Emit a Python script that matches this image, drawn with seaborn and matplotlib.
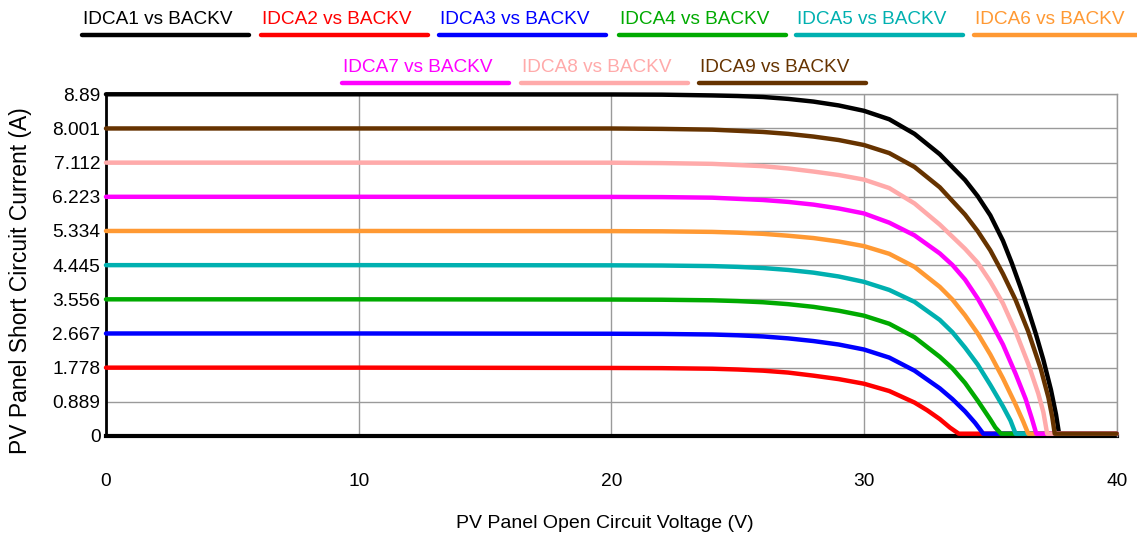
import pandas as pd
import numpy as np
import seaborn as sns
import matplotlib.pyplot as plt
from matplotlib.lines import Line2D

# series names (legend order)
series_names = ['IDCA1 vs BACKV', 'IDCA2 vs BACKV', 'IDCA3 vs BACKV',
                'IDCA4 vs BACKV', 'IDCA5 vs BACKV', 'IDCA6 vs BACKV',
                'IDCA7 vs BACKV', 'IDCA8 vs BACKV', 'IDCA9 vs BACKV']

# I-V points (volts / amps)
v_idca1 = [0, 10, 20, 22, 24, 25, 26, 27, 28, 29, 30, 31, 32, 33, 34, 34.5, 35, 35.5, 35.85, 36.2, 36.5, 36.8, 37.1, 37.4, 37.6, 37.72, 40]
i_idca1 = [8.89, 8.89, 8.885, 8.88, 8.86, 8.845, 8.82, 8.77, 8.70, 8.60, 8.46, 8.24, 7.86, 7.33, 6.66, 6.24, 5.74, 5.08, 4.50, 3.86, 3.28, 2.66, 1.98, 1.20, 0.56, 0.06, 0.06]

v_idca2 = [0, 10, 20, 22, 24, 25, 26, 27, 28, 29, 30, 31, 32, 32.5, 33, 33.4, 33.75, 40]
i_idca2 = [1.778, 1.778, 1.77, 1.765, 1.75, 1.73, 1.70, 1.65, 1.57, 1.48, 1.36, 1.17, 0.87, 0.67, 0.44, 0.22, 0.06, 0.06]

v_idca3 = [0, 10, 20, 22, 24, 25, 26, 27, 28, 29, 30, 31, 32, 33, 33.5, 34, 34.4, 34.72, 40]
i_idca3 = [2.667, 2.667, 2.66, 2.655, 2.64, 2.62, 2.59, 2.54, 2.47, 2.38, 2.25, 2.04, 1.70, 1.24, 0.96, 0.64, 0.34, 0.06, 0.06]

v_idca4 = [0, 10, 20, 22, 24, 25, 26, 27, 28, 29, 30, 31, 32, 33, 33.5, 34, 34.5, 35, 35.2, 35.42, 40]
i_idca4 = [3.556, 3.556, 3.55, 3.545, 3.53, 3.51, 3.48, 3.43, 3.36, 3.26, 3.13, 2.92, 2.57, 2.06, 1.76, 1.38, 0.92, 0.43, 0.22, 0.06, 0.06]

v_idca5 = [0, 10, 20, 22, 24, 25, 26, 27, 28, 29, 30, 31, 32, 33, 33.5, 34, 34.5, 35, 35.5, 35.8, 36.0, 40]
i_idca5 = [4.445, 4.445, 4.44, 4.435, 4.42, 4.40, 4.37, 4.32, 4.25, 4.15, 4.01, 3.80, 3.49, 3.02, 2.70, 2.30, 1.86, 1.33, 0.77, 0.40, 0.06, 0.06]

v_idca6 = [0, 10, 20, 22, 24, 25, 26, 27, 28, 29, 30, 31, 32, 33, 33.5, 34, 34.5, 35, 35.5, 36, 36.3, 36.5, 40]
i_idca6 = [5.334, 5.334, 5.33, 5.325, 5.31, 5.29, 5.26, 5.21, 5.15, 5.06, 4.94, 4.74, 4.40, 3.88, 3.55, 3.14, 2.67, 2.12, 1.50, 0.82, 0.38, 0.06, 0.06]

v_idca7 = [0, 10, 20, 22, 24, 25, 26, 27, 28, 29, 30, 31, 32, 33, 33.5, 34, 34.5, 35, 35.5, 36, 36.4, 36.65, 36.82, 40]
i_idca7 = [6.223, 6.223, 6.22, 6.215, 6.20, 6.17, 6.14, 6.09, 6.02, 5.92, 5.79, 5.55, 5.22, 4.75, 4.45, 4.07, 3.58, 3.00, 2.38, 1.62, 0.96, 0.44, 0.06, 0.06]

v_idca8 = [0, 10, 20, 22, 24, 25, 26, 27, 28, 29, 30, 31, 32, 33, 34, 34.5, 35, 35.5, 36, 36.5, 36.9, 37.1, 37.25, 40]
i_idca8 = [7.112, 7.112, 7.11, 7.10, 7.08, 7.05, 7.02, 6.96, 6.88, 6.79, 6.67, 6.45, 6.05, 5.50, 4.87, 4.51, 4.02, 3.45, 2.72, 1.88, 1.10, 0.62, 0.06, 0.06]

v_idca9 = [0, 10, 20, 22, 24, 25, 26, 27, 28, 29, 30, 31, 32, 33, 34, 34.5, 35, 35.5, 36, 36.5, 37, 37.3, 37.45, 37.55, 40]
i_idca9 = [8.001, 8.001, 8.0, 7.99, 7.97, 7.94, 7.91, 7.86, 7.79, 7.70, 7.57, 7.36, 7.00, 6.47, 5.76, 5.33, 4.83, 4.22, 3.54, 2.72, 1.74, 1.00, 0.50, 0.06, 0.06]

volts = [v_idca1, v_idca2, v_idca3, v_idca4, v_idca5, v_idca6, v_idca7, v_idca8, v_idca9]
amps = [i_idca1, i_idca2, i_idca3, i_idca4, i_idca5, i_idca6, i_idca7, i_idca8, i_idca9]

y_ticks = [0, 0.889, 1.778, 2.667, 3.556, 4.445, 5.334, 6.223, 7.112, 8.001, 8.89]
y_tick_labels = ['0', '0.889', '1.778', '2.667', '3.556', '4.445', '5.334', '6.223', '7.112', '8.001', '8.89']
x_ticks = [0, 10, 20, 30, 40]

line_colors = ['#000000', '#ff0000', '#0000ff', '#00aa00', '#00b0b0',
               '#ff9933', '#ff00ff', '#ffaaaa', '#663300']

# long form table for seaborn
rows = []
for name, vs, cs in zip(series_names, volts, amps):
    for v, c in zip(vs, cs):
        rows.append({'series': name, 'V': v, 'I': c})
df = pd.DataFrame(rows)

sns.set_theme(style='white')
plt.rcParams['font.family'] = ['Liberation Sans', 'DejaVu Sans']

fig = plt.figure(figsize=(11.37, 5.4), dpi=100)
ax = fig.add_axes([0.0932, 0.1926, 0.8889, 0.6328])

sns.lineplot(data=df, x='V', y='I', hue='series', hue_order=series_names,
             palette=line_colors, estimator=None, sort=False, linewidth=3.2,
             legend=False, ax=ax, clip_on=False, zorder=3)
for ln in ax.lines:
    ln.set_solid_joinstyle('round')

ax.set_xlim(0, 40)
ax.set_ylim(0, 8.89)
ax.set_xticks(x_ticks)
ax.set_yticks(y_ticks)
ax.set_yticklabels(y_tick_labels)
ax.grid(True, color='#9a9a9a', linewidth=1.0)
ax.set_axisbelow(True)
ax.tick_params(axis='both', length=0, labelsize=13.8, colors='black')
ax.tick_params(axis='x', pad=27)
ax.tick_params(axis='y', pad=4)

for side in ['top', 'right']:
    ax.spines[side].set_color('#9a9a9a')
    ax.spines[side].set_linewidth(1.0)
ax.spines['left'].set_color('black')
ax.spines['left'].set_linewidth(2.0)
ax.spines['bottom'].set_color('black')
ax.spines['bottom'].set_linewidth(3.0)
ax.spines['bottom'].set_zorder(2)

ax.set_xlabel('PV Panel Open Circuit Voltage (V)', fontsize=14, color='black')
ax.xaxis.set_label_coords(0.494, -0.23)
ax.set_ylabel('PV Panel Short Circuit Current (A)', fontsize=16.5, color='black')
ax.yaxis.set_label_coords(-0.073, 0.455)

# legend: coloured text with a thick underline, two rows
W, H = 1137.0, 540.0
legend_x = [83, 262, 440, 620, 797, 975, 343, 522, 700]
legend_row = [0, 0, 0, 0, 0, 0, 1, 1, 1]
text_y = [19, 68]
line_y = [35, 83]
for name, col, x0, r in zip(series_names, line_colors, legend_x, legend_row):
    fig.text(x0 / W, 1 - text_y[r] / H, name, color=col, fontsize=13.7,
             ha='left', va='center')
    fig.add_artist(Line2D([(x0 - 1) / W, (x0 + 166) / W],
                          [1 - line_y[r] / H, 1 - line_y[r] / H],
                          color=col, linewidth=3.2, transform=fig.transFigure))

fig.savefig('out.png', dpi=100, facecolor='white')
